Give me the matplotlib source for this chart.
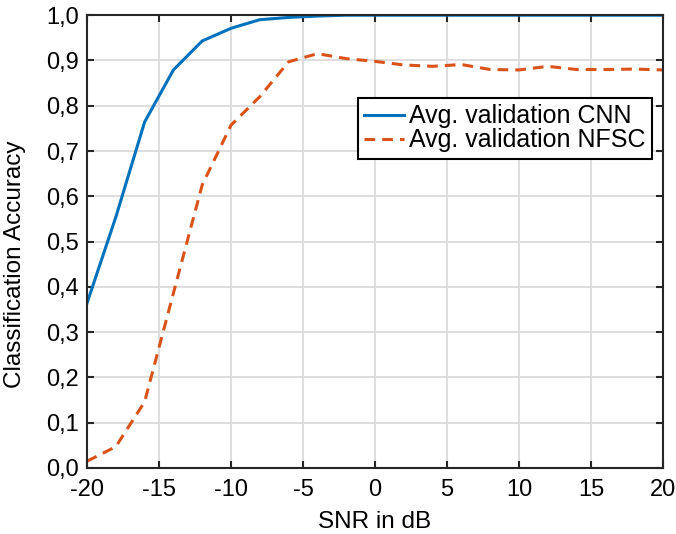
import matplotlib
matplotlib.use("Agg")
import matplotlib.pyplot as plt
from matplotlib.ticker import FuncFormatter

# data
snr = [-20, -18, -16, -14, -12, -10, -8, -6, -4, -2, 0, 2, 4, 6, 8, 10, 12, 14, 16, 18, 20]
acc_cnn = [0.364, 0.554, 0.764, 0.879, 0.943, 0.971, 0.990, 0.995, 0.998, 1.0, 1.0,
           1.0, 1.0, 1.0, 1.0, 1.0, 1.0, 1.0, 1.0, 1.0, 1.0]
acc_nfsc = [0.015, 0.047, 0.146, 0.386, 0.625, 0.757, 0.820, 0.897, 0.915, 0.904, 0.898,
            0.890, 0.887, 0.891, 0.880, 0.879, 0.887, 0.880, 0.880, 0.881, 0.879]
xticks = [-20, -15, -10, -5, 0, 5, 10, 15, 20]
yticks = [0.0, 0.1, 0.2, 0.3, 0.4, 0.5, 0.6, 0.7, 0.8, 0.9, 1.0]

plt.rcParams['font.family'] = ['Liberation Sans', 'DejaVu Sans']
plt.rcParams['axes.unicode_minus'] = False

fig = plt.figure(figsize=(6.76, 5.34), dpi=100)
ax = fig.add_axes([0.1287, 0.1236, 0.852, 0.848])

ax.plot(snr, acc_cnn, color='#0072BD', lw=2.2, label='Avg. validation CNN')
ax.plot(snr, acc_nfsc, color='#D95319', lw=2.2, ls=(0, (3.5, 2.3)), label='Avg. validation NFSC')

ax.set_xlim(-20, 20)
ax.set_ylim(0, 1)
ax.set_xticks(xticks)
ax.set_yticks(yticks)
ax.yaxis.set_major_formatter(FuncFormatter(lambda v, p: f"{v:.1f}".replace('.', ',')))
ax.grid(True, color='#dedede', lw=1.4)
ax.set_axisbelow(True)
for s in ax.spines.values():
    s.set_color('#262626')
    s.set_linewidth(1.5)
ax.tick_params(direction='in', top=True, right=True, length=5, width=1.5,
               color='#262626', labelcolor='#000000', labelsize=17)
ax.tick_params(axis='x', pad=8)
ax.tick_params(axis='y', pad=6)

ax.set_xlabel('SNR in dB', fontsize=17.5, labelpad=7)
ax.set_ylabel('Classification Accuracy', fontsize=17.5)
ax.yaxis.set_label_coords(-0.106, 0.449)

leg = ax.legend(loc='upper right', bbox_to_anchor=(0.981, 0.817), fontsize=18,
                frameon=True, fancybox=False, framealpha=1, edgecolor='black',
                borderpad=0.25, handlelength=1.6, handletextpad=0.2, labelspacing=0.0,
                borderaxespad=0)
leg.get_frame().set_linewidth(1.5)

fig.savefig('out.png', dpi=100)
